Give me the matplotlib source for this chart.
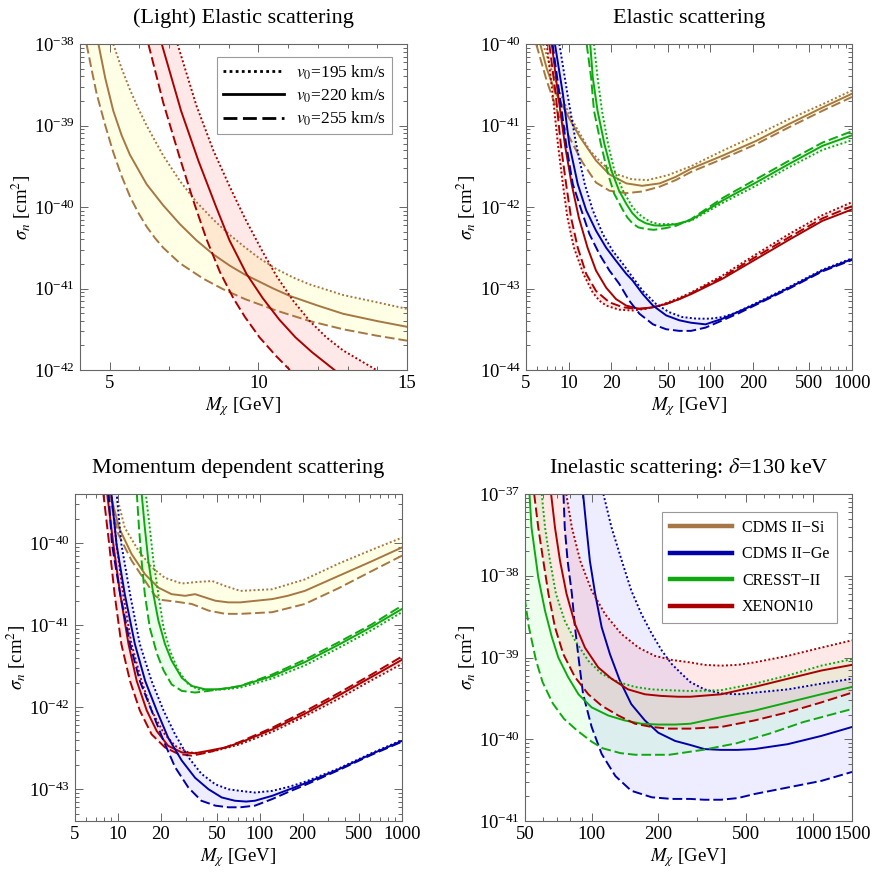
import numpy as np
import matplotlib
matplotlib.use('Agg')
import matplotlib.pyplot as plt
from matplotlib.ticker import (LogLocator, LogFormatterMathtext, FixedLocator,
                               FixedFormatter, MultipleLocator, NullFormatter)
from matplotlib.lines import Line2D

plt.rcParams['font.family'] = ['Liberation Serif', 'DejaVu Serif']
plt.rcParams['mathtext.fontset'] = 'stix'

# curves: (M_chi [GeV], log10 sigma_n [cm^2])
# dot = v0 195 km/s, sol = v0 220 km/s, dash = v0 255 km/s

# --- (Light) elastic scattering
p1_si_dot = [(5.12, -38.0), (5.4, -38.3), (5.68, -38.56), (5.96, -38.79), (6.24, -39.0), (6.8, -39.37),
             (7.36, -39.68), (7.92, -39.94), (8.5, -40.16), (9.0, -40.33), (9.5, -40.48), (10.0, -40.62),
             (10.6, -40.76), (11.2, -40.87), (11.73, -40.95), (12.85, -41.08), (14.0, -41.17), (15.0, -41.25)]
p1_si_sol = [(4.62, -38.0), (4.85, -38.42), (5.12, -38.82), (5.4, -39.12), (5.68, -39.36), (6.24, -39.72),
             (6.8, -39.98), (7.36, -40.21), (7.92, -40.41), (8.48, -40.58), (9.04, -40.72), (9.55, -40.83),
             (10.0, -40.91), (10.5, -41.0), (11.05, -41.09), (12.0, -41.21), (12.85, -41.31), (14.0, -41.40),
             (15.0, -41.47)]
p1_si_dash = [(4.22, -38.0), (4.4, -38.33), (4.56, -38.61), (4.85, -39.0), (5.12, -39.33), (5.4, -39.62),
              (5.68, -39.87), (5.96, -40.07), (6.24, -40.24), (6.52, -40.38), (6.8, -40.5), (7.36, -40.69),
              (8.15, -40.88), (8.82, -41.01), (9.55, -41.13), (10.6, -41.27), (11.73, -41.40), (12.85, -41.50),
              (14.0, -41.58), (15.0, -41.64)]
p1_xe_dot = [(7.28, -38.0), (7.92, -38.76), (8.49, -39.31), (9.05, -39.76), (9.55, -40.14), (10.16, -40.56),
             (10.6, -40.84), (11.17, -41.15), (11.73, -41.40), (12.29, -41.6), (12.85, -41.76), (13.97, -42.0)]
p1_xe_sol = [(6.75, -38.0), (7.4, -38.82), (7.98, -39.43), (8.58, -40.0), (9.03, -40.41), (9.6, -40.82),
             (10.15, -41.12), (10.7, -41.38), (11.25, -41.6), (11.8, -41.78), (12.56, -42.0)]
p1_xe_dash = [(6.30, -38.0), (6.8, -38.72), (7.36, -39.4), (7.81, -39.92), (8.26, -40.4), (8.71, -40.8),
              (9.16, -41.12), (9.55, -41.35), (10.04, -41.6), (10.6, -41.83), (11.06, -42.0)]

# --- Elastic scattering
p2_si_dot = [(6.6, -40.0), (7.5, -40.3), (8.5, -40.55), (10, -40.85), (11.3, -41.02), (14, -41.3),
             (17.5, -41.48), (22, -41.6), (28, -41.66), (36, -41.67), (50, -41.61), (73, -41.5),
             (122, -41.31), (210, -41.12), (361, -40.92), (618, -40.74), (1000, -40.57)]
p2_si_sol = [(6.3, -40.0), (7, -40.3), (8, -40.58), (10, -40.9), (12, -41.14), (15.6, -41.43),
             (19.4, -41.6), (25.5, -41.71), (33, -41.74), (44, -41.71), (57, -41.63), (73, -41.53),
             (122, -41.37), (210, -41.19), (361, -40.98), (618, -40.78), (1000, -40.61)]
p2_si_dash = [(5.9, -40.0), (7, -40.45), (8.6, -40.9), (10.5, -41.2), (12.5, -41.45), (15.6, -41.7),
              (19.4, -41.80), (25.5, -41.83), (33, -41.81), (44, -41.75), (57, -41.67), (73, -41.57),
              (122, -41.41), (210, -41.23), (361, -41.02), (618, -40.82), (1000, -40.65)]
p2_ge_dot = [(8.6, -40.0), (9.8, -40.61), (11.3, -41.23), (13, -41.72), (14.8, -42.04), (17.4, -42.33),
             (20.5, -42.54), (24.2, -42.70), (28.2, -42.86), (33.4, -43.03), (41.4, -43.19), (51.2, -43.29),
             (63.4, -43.35), (80, -43.37), (100, -43.37), (122, -43.35), (150, -43.30), (210, -43.18),
             (361, -42.98), (618, -42.77), (1000, -42.63)]
p2_ge_sol = [(8.0, -40.0), (9.1, -40.61), (10.1, -41.23), (11.6, -41.72), (13.3, -42.04), (15.6, -42.29),
             (18.4, -42.50), (21.6, -42.66), (25.5, -42.82), (28.2, -42.9), (33.4, -43.07), (39.4, -43.21),
             (48.8, -43.33), (60.4, -43.39), (73, -43.42), (92.5, -43.44), (122, -43.37), (210, -43.19),
             (361, -42.99), (618, -42.78), (1000, -42.64)]
p2_ge_dash = [(7.7, -40.0), (8.6, -40.61), (9.6, -41.23), (10.7, -41.72), (12.3, -42.04), (14.0, -42.33),
              (16.5, -42.58), (19.4, -42.78), (22.7, -42.94), (26.8, -43.15), (31.6, -43.31), (39.4, -43.44),
              (48.8, -43.5), (60.4, -43.52), (73, -43.52), (92.5, -43.48), (122, -43.39), (160, -43.3),
              (210, -43.2), (361, -43.0), (618, -42.79), (1000, -42.65)]
p2_cr_dot = [(15.1, -40.0), (16, -40.41), (17.2, -40.82), (19, -41.23), (21, -41.55), (24.2, -41.8),
             (28.2, -42.0), (31.5, -42.09), (35, -42.15), (39, -42.19), (43.8, -42.21), (57.5, -42.21),
             (73, -42.17), (122, -41.95), (210, -41.74), (361, -41.51), (618, -41.30), (1000, -41.18)]
p2_cr_sol = [(14.2, -40.0), (14.8, -40.41), (16.0, -40.82), (17.9, -41.23), (20, -41.55), (22.7, -41.8),
             (25.5, -41.96), (28, -42.07), (31, -42.15), (35, -42.2), (40, -42.225), (45, -42.23),
             (57.5, -42.21), (73, -42.16), (122, -41.92), (210, -41.70), (361, -41.47), (618, -41.25),
             (1000, -41.12)]
p2_cr_dash = [(13.4, -40.0), (14.4, -40.41), (15.1, -40.82), (16.9, -41.23), (19, -41.6), (21, -41.84),
              (24.2, -42.04), (26, -42.13), (28.2, -42.2), (31, -42.25), (35, -42.27), (40, -42.28),
              (48, -42.26), (57.5, -42.23), (73, -42.15), (122, -41.89), (210, -41.66), (361, -41.43),
              (618, -41.21), (1000, -41.07)]
p2_xe_dot = [(7.0, -40.0), (7.7, -40.61), (8.4, -41.23), (9.1, -41.72), (9.8, -42.13), (10.9, -42.5),
             (12.7, -42.82), (14.8, -43.05), (16.5, -43.15), (18.4, -43.21), (22.7, -43.26), (28.2, -43.27),
             (35, -43.25), (43.8, -43.21), (57.5, -43.13), (73, -43.05), (122, -42.84), (210, -42.58),
             (361, -42.33), (618, -42.1), (1000, -41.94)]
p2_xe_sol = [(7.6, -40.0), (8.4, -40.61), (9.4, -41.23), (10.5, -41.72), (11.8, -42.13), (13.6, -42.5),
             (15.6, -42.78), (18.4, -42.99), (21.6, -43.13), (25.5, -43.21), (31.6, -43.25), (39.4, -43.23),
             (48.8, -43.19), (60.4, -43.13), (73, -43.07), (122, -42.88), (210, -42.64), (361, -42.40),
             (618, -42.17), (1000, -42.03)]
p2_xe_dash = [(7.3, -40.0), (8.1, -40.61), (8.8, -41.23), (9.6, -41.72), (10.4, -42.13), (11.6, -42.5),
              (13.3, -42.82), (15.6, -43.03), (19.4, -43.17), (24.2, -43.23), (29.9, -43.25), (37.1, -43.24),
              (48.8, -43.19), (60.4, -43.13), (73, -43.06), (122, -42.86), (210, -42.61), (361, -42.37),
              (618, -42.14), (1000, -41.99)]

# --- Momentum dependent scattering
p3_si_dot = [(9.7, -39.38), (11.2, -39.81), (14, -40.09), (17.3, -40.29), (21.4, -40.42), (28.2, -40.49),
             (36.7, -40.47), (46.2, -40.46), (57.1, -40.52), (72.8, -40.58), (122, -40.56), (207, -40.44),
             (355, -40.25), (610, -40.08), (1000, -39.93)]
p3_si_sol = [(8.8, -39.38), (10.2, -39.81), (12.5, -40.13), (15.6, -40.38), (19.3, -40.54), (23.9, -40.62),
             (29.8, -40.64), (35, -40.62), (48.6, -40.70), (59.9, -40.72), (72.8, -40.72), (122, -40.68),
             (157, -40.64), (207, -40.58), (355, -40.40), (610, -40.22), (1000, -40.05)]
p3_si_dash = [(8.6, -39.38), (10.1, -39.89), (12.5, -40.21), (15.6, -40.46), (18.3, -40.64), (20.3, -40.69),
              (25.3, -40.71), (33.2, -40.74), (43.5, -40.82), (57.1, -40.86), (72.8, -40.86), (122, -40.84),
              (207, -40.74), (355, -40.55), (610, -40.34), (1000, -40.15)]
p3_ge_dot = [(9.8, -39.38), (10.6, -40.01), (12.2, -40.62), (14.3, -41.23), (17.3, -41.68), (21, -42.04),
             (25.3, -42.33), (31.4, -42.61), (38.7, -42.81), (48.6, -42.94), (60.1, -43.0), (72.8, -43.02),
             (92.3, -43.04), (122, -43.02), (160, -42.97), (207, -42.91), (355, -42.75), (610, -42.56),
             (1000, -42.40)]
p3_ge_sol = [(9.0, -39.38), (9.8, -40.01), (11.2, -40.62), (13.2, -41.23), (15.6, -41.68), (18.8, -42.04),
             (22.6, -42.37), (28.2, -42.65), (35, -42.86), (43.5, -43.0), (53.9, -43.1), (66.7, -43.14),
             (80, -43.15), (92.3, -43.14), (122, -43.08), (207, -42.93), (355, -42.76), (610, -42.57),
             (1000, -42.41)]
p3_ge_dash = [(8.6, -39.38), (9.1, -40.01), (10.4, -40.62), (12.2, -41.23), (14.3, -41.68), (17.3, -42.04),
              (21, -42.41), (25.3, -42.73), (31.4, -42.98), (38.7, -43.14), (48.6, -43.2), (60.1, -43.22),
              (72.8, -43.22), (92.3, -43.2), (122, -43.12), (160, -43.03), (207, -42.95), (355, -42.77),
              (610, -42.58), (1000, -42.42)]
p3_cr_dot = [(15.7, -39.38), (16.8, -39.81), (17.8, -40.21), (19.3, -40.62), (21, -41.03), (23.3, -41.31),
             (26.6, -41.55), (31.4, -41.72), (36.7, -41.78), (43.5, -41.79), (57.1, -41.78), (72.8, -41.76),
             (122, -41.65), (207, -41.49), (355, -41.28), (610, -41.06), (1000, -40.84)]
p3_cr_sol = [(14.7, -39.38), (15.5, -39.81), (16.4, -40.21), (17.8, -40.62), (19.3, -40.94), (21.5, -41.23),
             (23.9, -41.43), (28.2, -41.64), (33.2, -41.74), (41.1, -41.78), (51.2, -41.78), (63.3, -41.76),
             (72.8, -41.74), (122, -41.62), (207, -41.45), (355, -41.24), (610, -41.02), (1000, -40.80)]
p3_cr_dash = [(13.6, -39.38), (14.1, -39.81), (14.7, -40.21), (15.5, -40.62), (16.8, -41.03), (18.9, -41.35),
              (21, -41.55), (23.9, -41.72), (28.2, -41.8), (35, -41.82), (43.5, -41.80), (57.1, -41.77),
              (72.8, -41.74), (122, -41.60), (207, -41.42), (355, -41.21), (610, -40.99), (1000, -40.76)]
p3_xe_dot = [(9.0, -39.38), (9.8, -40.01), (10.9, -40.62), (12.5, -41.23), (14.7, -41.68), (17.3, -42.04),
             (21, -42.31), (25.3, -42.47), (31.4, -42.55), (38.7, -42.56), (48.6, -42.53), (60.1, -42.49),
             (72.8, -42.45), (122, -42.30), (207, -42.11), (355, -41.90), (610, -41.67), (1000, -41.47)]
p3_xe_sol = [(8.4, -39.38), (9.3, -40.01), (10.4, -40.62), (11.9, -41.23), (13.6, -41.68), (16.0, -42.04),
             (18.8, -42.29), (22.6, -42.47), (28.2, -42.55), (35, -42.56), (43.5, -42.53), (57.1, -42.49),
             (72.8, -42.43), (122, -42.27), (207, -42.08), (355, -41.86), (610, -41.63), (1000, -41.42)]
p3_xe_dash = [(7.9, -39.38), (8.7, -40.01), (9.5, -40.62), (10.6, -41.23), (12.2, -41.68), (14.3, -42.04),
              (17.3, -42.33), (21.5, -42.49), (26.7, -42.57), (33.2, -42.59), (43.5, -42.55), (57.1, -42.49),
              (72.8, -42.42), (122, -42.25), (207, -42.05), (355, -41.83), (610, -41.60), (1000, -41.38)]

# --- Inelastic scattering, delta = 130 keV
p4_ge_dot = [(113, -37.0), (123, -37.41), (137, -37.82), (151, -38.18), (168, -38.47), (187, -38.71),
             (208, -38.92), (230, -39.08), (255, -39.2), (279, -39.3), (323, -39.39), (384, -39.44),
             (457, -39.45), (544, -39.43), (769, -39.39), (1088, -39.32), (1500, -39.26)]
p4_ge_sol = [(91.5, -37.0), (94.7, -37.41), (98.2, -37.82), (103.7, -38.22), (111, -38.63), (121, -38.96),
             (134, -39.28), (151, -39.57), (174, -39.77), (200, -39.92), (238, -40.02), (279, -40.07),
             (323, -40.12), (384, -40.13), (457, -40.13), (544, -40.12), (769, -40.06), (1088, -39.96),
             (1500, -39.85)]
p4_ge_dash = [(74.6, -37.0), (75.6, -37.41), (77.9, -37.82), (81.4, -38.22), (84.1, -38.63), (87.6, -39.04),
              (91.5, -39.45), (100, -39.85), (111, -40.18), (128, -40.45), (151, -40.63), (187, -40.71),
              (230, -40.73), (279, -40.73), (323, -40.74), (384, -40.74), (457, -40.72), (544, -40.67),
              (769, -40.59), (1088, -40.51), (1500, -40.40)]
p4_cr_dot = [(59.5, -37.0), (61.6, -37.41), (64.9, -37.82), (69, -38.22), (75.6, -38.55), (84.1, -38.79),
             (96.6, -39.04), (111, -39.2), (132, -39.30), (157, -39.36), (187, -39.39), (222, -39.40),
             (279, -39.41), (384, -39.40), (544, -39.32), (769, -39.22), (1088, -39.10), (1500, -39.02)]
p4_cr_sol = [(52.4, -37.0), (53.5, -37.41), (57.4, -38.02), (61.6, -38.43), (66.1, -38.75), (70.7, -39.0),
             (78.3, -39.24), (87.2, -39.45), (100, -39.61), (119, -39.71), (141, -39.77), (168, -39.81),
             (200, -39.82), (238, -39.82), (279, -39.81), (384, -39.73), (544, -39.65), (769, -39.55),
             (1088, -39.45), (1500, -39.36)]
p4_cr_dash = [(47, -36.6), (50, -38.3), (52, -38.62), (56, -39.03), (60, -39.3), (66.7, -39.56), (75, -39.75),
              (85.7, -39.89), (100, -40.03), (112, -40.11), (135, -40.17), (158, -40.19), (224, -40.19),
              (318, -40.13), (450, -40.05), (638, -39.93), (903, -39.79), (1500, -39.63)]
p4_xe_dot = [(76.8, -37.0), (81.4, -37.41), (88.9, -37.82), (100, -38.18), (115, -38.47), (136, -38.71),
             (163, -38.88), (193, -38.98), (230, -39.03), (279, -39.06), (323, -39.09), (384, -39.10),
             (457, -39.09), (544, -39.06), (769, -38.98), (1088, -38.88), (1500, -38.79)]
p4_xe_sol = [(65.6, -37.0), (68.3, -37.41), (72.0, -37.82), (77.0, -38.22), (84.1, -38.59), (93.3, -38.88),
             (107, -39.12), (123, -39.26), (146, -39.39), (174, -39.45), (206, -39.47), (246, -39.48),
             (279, -39.48), (384, -39.45), (544, -39.36), (769, -39.26), (1088, -39.16), (1500, -39.09)]
p4_xe_dash = [(55.0, -37.0), (57.4, -37.41), (60.5, -37.82), (63.8, -38.22), (68.3, -38.63), (74.5, -38.96),
              (84.1, -39.24), (96.6, -39.45), (111, -39.59), (132, -39.71), (157, -39.81), (187, -39.85),
              (222, -39.87), (279, -39.87), (384, -39.85), (544, -39.77), (769, -39.67), (1088, -39.55),
              (1500, -39.43)]

titles = ['(Light) Elastic scattering', 'Elastic scattering',
          'Momentum dependent scattering', r'Inelastic scattering: $\delta$=130 keV']
v0_labels = [r'$v_0$=195 km/s', r'$v_0$=220 km/s', r'$v_0$=255 km/s']
experiments = ['CDMS II\u2212Si', 'CDMS II\u2212Ge', 'CRESST\u2212II', 'XENON10']
xticks_light = [5, 10, 15]
xticks_wide = [5, 10, 20, 50, 100, 200, 500, 1000]
xticks_inel = [50, 100, 200, 500, 1000, 1500]
yticks_p1 = [1e-42, 1e-41, 1e-40, 1e-39, 1e-38]
yticks_p2 = [1e-44, 1e-43, 1e-42, 1e-41, 1e-40]
yticks_p3 = [1e-43, 1e-42, 1e-41, 1e-40]
yticks_p4 = [1e-41, 1e-40, 1e-39, 1e-38, 1e-37]

# styles
col = {'si': '#A67744', 'ge': '#0000AA', 'cr': '#10A810', 'xe': '#AA0000'}
fillc = {'si': ('#FFFF80', 0.2), 'ge': ('#0000FF', 0.07), 'cr': ('#00FF00', 0.07), 'xe': ('#FF0000', 0.09)}
DOT = (0, (1, 1.2))
DASH = (0, (5, 2))
LW = 1.4
FRAME = '#666666'


def curve(pts):
    m, s = zip(*pts)
    return np.array(m, float), 10.0 ** np.array(s)


def draw_set(ax, key, dot, sol, dash):
    m1, s1 = curve(dash)
    m2, s2 = curve(dot)
    c, a = fillc[key]
    ax.fill(np.concatenate([m1, m2[::-1]]), np.concatenate([s1, s2[::-1]]),
            color=c, alpha=a, lw=0, zorder=1)
    for pts, ls in ((dot, DOT), (sol, '-'), (dash, DASH)):
        m, s = curve(pts)
        ax.plot(m, s, color=col[key], lw=LW, ls=ls, zorder=2)


def style(ax, title, xlim, ylim, xticks, yticks, logx=True):
    ax.set_title(title, fontsize=16, pad=15)
    ax.set_yscale('log')
    if logx:
        ax.set_xscale('log')
        ax.xaxis.set_minor_locator(LogLocator(base=10, subs=np.arange(2, 10), numticks=30))
    else:
        ax.xaxis.set_minor_locator(MultipleLocator(1))
    ax.xaxis.set_major_locator(FixedLocator(xticks))
    ax.xaxis.set_major_formatter(FixedFormatter([str(t) for t in xticks]))
    ax.xaxis.set_minor_formatter(NullFormatter())
    ax.set_xlim(*xlim)
    ax.set_ylim(*ylim)
    ax.yaxis.set_major_locator(FixedLocator(yticks))
    ax.yaxis.set_minor_locator(LogLocator(base=10, subs=np.arange(2, 10), numticks=20))
    ax.yaxis.set_major_formatter(LogFormatterMathtext())
    ax.yaxis.set_minor_formatter(NullFormatter())
    ax.tick_params(which='both', direction='in', top=True, right=True, color=FRAME,
                   labelsize=13.5, width=0.7)
    ax.tick_params(which='major', length=6)
    ax.tick_params(which='minor', length=3)
    for sp in ax.spines.values():
        sp.set_color(FRAME)
        sp.set_linewidth(0.8)
    ax.set_xlabel(r'$M_\chi$ [GeV]', fontsize=13.5, labelpad=2)
    ax.set_ylabel(r'$\sigma_n$ [cm$^2$]', fontsize=13.5, labelpad=1)


fig = plt.figure(figsize=(8.72, 8.72), dpi=100)
ax1 = fig.add_axes([80 / 872, 502 / 872, 327 / 872, 326 / 872])
ax2 = fig.add_axes([526 / 872, 502 / 872, 326 / 872, 326 / 872])
ax3 = fig.add_axes([75 / 872, 51 / 872, 327 / 872, 327 / 872])
ax4 = fig.add_axes([525 / 872, 51 / 872, 327 / 872, 327 / 872])

# panel 1
draw_set(ax1, 'si', p1_si_dot, p1_si_sol, p1_si_dash)
draw_set(ax1, 'xe', p1_xe_dot, p1_xe_sol, p1_xe_dash)
style(ax1, titles[0], (4, 15), (1e-42, 1e-38), xticks_light, yticks_p1, logx=False)
h = [Line2D([], [], color='k', lw=2, ls=ls) for ls in (DOT, '-', DASH)]
leg = ax1.legend(h, v0_labels, loc='upper right', bbox_to_anchor=(0.955, 0.96), borderaxespad=0,
                 fontsize=12.5, handlelength=3.5, handletextpad=0.7, labelspacing=0.28,
                 fancybox=False, framealpha=1, borderpad=0.35)
leg.get_frame().set_edgecolor('#999999')
leg.get_frame().set_linewidth(0.8)

# panel 2
draw_set(ax2, 'si', p2_si_dot, p2_si_sol, p2_si_dash)
draw_set(ax2, 'cr', p2_cr_dot, p2_cr_sol, p2_cr_dash)
draw_set(ax2, 'xe', p2_xe_dot, p2_xe_sol, p2_xe_dash)
draw_set(ax2, 'ge', p2_ge_dot, p2_ge_sol, p2_ge_dash)
style(ax2, titles[1], (5, 1000), (1e-44, 1e-40), xticks_wide, yticks_p2)

# panel 3
draw_set(ax3, 'si', p3_si_dot, p3_si_sol, p3_si_dash)
draw_set(ax3, 'cr', p3_cr_dot, p3_cr_sol, p3_cr_dash)
draw_set(ax3, 'xe', p3_xe_dot, p3_xe_sol, p3_xe_dash)
draw_set(ax3, 'ge', p3_ge_dot, p3_ge_sol, p3_ge_dash)
style(ax3, titles[2], (5, 1000), (4.1e-44, 4e-40), xticks_wide, yticks_p3)

# panel 4
draw_set(ax4, 'ge', p4_ge_dot, p4_ge_sol, p4_ge_dash)
draw_set(ax4, 'cr', p4_cr_dot, p4_cr_sol, p4_cr_dash)
draw_set(ax4, 'xe', p4_xe_dot, p4_xe_sol, p4_xe_dash)
style(ax4, titles[3], (50, 1500), (1e-41, 1e-37), xticks_inel, yticks_p4)
h = [Line2D([], [], color=col[k], lw=3.2) for k in ('si', 'ge', 'cr', 'xe')]
leg = ax4.legend(h, experiments, loc='upper right', bbox_to_anchor=(0.955, 0.945), borderaxespad=0,
                 fontsize=11.5, handlelength=3.9, handletextpad=0.6, labelspacing=0.65,
                 fancybox=False, framealpha=1, borderpad=0.5)
leg.get_frame().set_edgecolor('#999999')
leg.get_frame().set_linewidth(0.8)

fig.savefig('out.png', dpi=100)
